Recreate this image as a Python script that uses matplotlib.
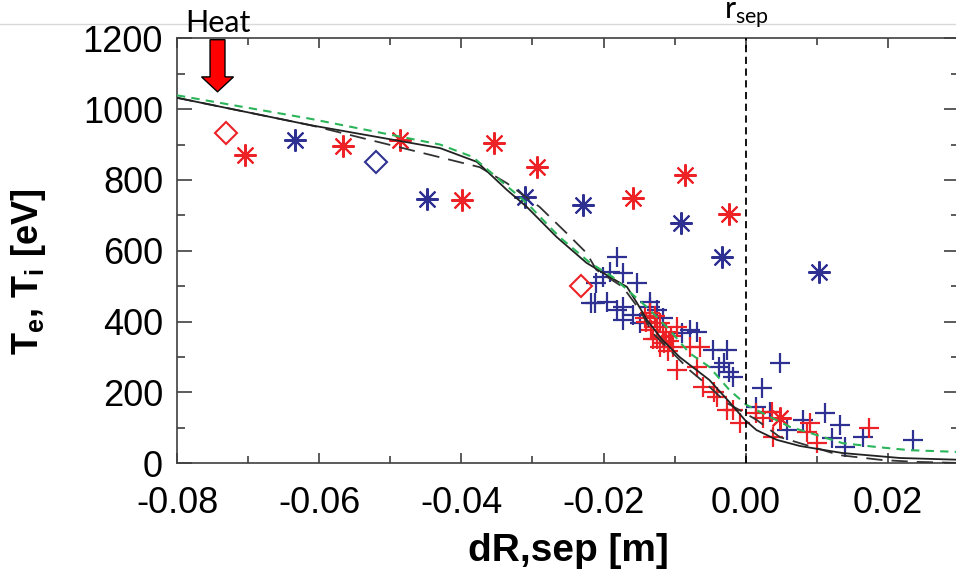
import matplotlib
matplotlib.use("Agg")
import matplotlib.pyplot as plt
from matplotlib.lines import Line2D
from matplotlib.patches import FancyArrow
from matplotlib.ticker import MultipleLocator, FormatStrFormatter

plt.rcParams["axes.unicode_minus"] = False
plt.rcParams["font.family"] = ["Liberation Sans", "DejaVu Sans"]

RED = "#ec2227"
BLUE = "#2e3192"

# --- model profiles ---
solid_x = [-0.0800, -0.0613, -0.0430, -0.0378, -0.0336, -0.0308, -0.0266, -0.0224,
           -0.0191, -0.0167, -0.0153, -0.0139, -0.0117, -0.0093, -0.0051, -0.0023,
           -0.0001, 0.0015, 0.0044, 0.0076, 0.0136, 0.0217, 0.0300]
solid_y = [1032, 955, 890, 851, 772, 724, 639, 566, 526, 498, 453, 405, 348, 300,
           235, 173, 122, 94, 66, 49, 29, 15, 10]

dash_x = [-0.0800, -0.0613, -0.0430, -0.0374, -0.0336, -0.0290, -0.0252, -0.0224,
          -0.0210, -0.0173, -0.0149, -0.0131, -0.0097, -0.0079, -0.0051, -0.0027,
          0.0015, 0.0048, 0.0132, 0.0193, 0.0240, 0.0300]
dash_y = [1032, 955, 864, 836, 791, 724, 650, 594, 546, 498, 433, 368, 300, 263,
          216, 171, 123, 74, 23, 9, 4, 1]

green_x = [-0.0800, -0.0613, -0.0430, -0.0384, -0.0346, -0.0308, -0.0262, -0.0219,
           -0.0187, -0.0139, -0.0107, -0.0079, -0.0051, -0.0023, 0.0001, 0.0034,
           0.0062, 0.0090, 0.0136, 0.0184, 0.0231, 0.0300]
green_y = [1039, 973, 900, 865, 800, 735, 639, 566, 526, 441, 376, 311, 272, 207,
           165, 131, 103, 86, 57, 46, 37, 32]

# --- measurements ---
red_ast_x = [-0.0705, -0.0567, -0.0487, -0.0399, -0.0354, -0.0294, -0.0159, -0.0086, -0.0023, 0.0048]
red_ast_y = [870, 896, 913, 743, 904, 836, 749, 814, 704, 128]

blue_ast_x = [-0.0634, -0.0449, -0.0311, -0.0229, -0.0091, -0.0034, 0.0103]
blue_ast_y = [913, 746, 752, 729, 679, 582, 540]

red_dia_x = [-0.0731, -0.0232]
red_dia_y = [933, 501]
blue_dia_x = [-0.0520]
blue_dia_y = [851]

blue_plus_x = [-0.0181, -0.0191, -0.0201, -0.0173, -0.0153, -0.0212, -0.0195, -0.0181,
               -0.0173, -0.0159, -0.0135, -0.0125, -0.0149, -0.0117, -0.0173, -0.0135,
               -0.0079, -0.0089, -0.0069, -0.0046, -0.0027, -0.0037, -0.0023, -0.0018,
               0.0048, 0.0023, 0.0015, 0.0034, 0.0058, 0.0080, 0.0111, 0.0132,
               0.0122, 0.0139, 0.0165, 0.0235, -0.0030, -0.0210, -0.0217]
blue_plus_y = [583, 540, 526, 537, 509, 453, 455, 433,
               442, 419, 455, 433, 396, 410, 405, 441,
               376, 368, 371, 320, 320, 272, 258, 243,
               283, 213, 159, 145, 94, 122, 142, 108,
               71, 46, 75, 66, 283, 509, 453]

red_plus_x = [-0.0135, -0.0125, -0.0117, -0.0121, -0.0103, -0.0097, -0.0097, -0.0069,
              -0.0060, -0.0041, -0.0027, -0.0065, -0.0018, -0.0008, 0.0015, 0.0024,
              0.0037, 0.0038, 0.0090, 0.0086, 0.0100, 0.0174, -0.0142, -0.0112,
              -0.0130, -0.0108, -0.0079, -0.0045, -0.0140, -0.0128, -0.0120, -0.0133,
              -0.0115, -0.0105, -0.0125, -0.0110]
red_plus_y = [425, 385, 357, 329, 329, 385, 263, 272,
              216, 188, 151, 329, 151, 114, 142, 128,
              145, 74, 114, 88, 57, 100, 409, 370,
              350, 345, 329, 200, 400, 415, 395, 375,
              340, 360, 350, 318]

x_ticks = [-0.08, -0.06, -0.04, -0.02, 0.00, 0.02]
y_ticks = [0, 200, 400, 600, 800, 1000, 1200]

fig = plt.figure(figsize=(9.56, 5.77), dpi=100)
ax = fig.add_axes([177 / 956, 1 - 463.3 / 577, 782 / 956, 425 / 577])

ax.plot(blue_plus_x, blue_plus_y, ls="none", marker="+", ms=15, mew=1.6, color=BLUE)
ax.plot(red_plus_x, red_plus_y, ls="none", marker="+", ms=15, mew=1.6, color=RED)
ax.plot(blue_ast_x, blue_ast_y, ls="none", marker=(8, 2, 0), ms=16, mew=1.5, color=BLUE)
ax.plot(red_ast_x, red_ast_y, ls="none", marker=(8, 2, 0), ms=16, mew=1.5, color=RED)
ax.plot(red_dia_x, red_dia_y, ls="none", marker="D", ms=11, mfc="none", mew=1.5, mec=RED)
ax.plot(blue_dia_x, blue_dia_y, ls="none", marker="D", ms=11, mfc="none", mew=1.5, mec=BLUE)

ax.plot(dash_x, dash_y, color="#333333", lw=1.3, ls=(0, (9, 5)), zorder=4)
ax.plot(solid_x, solid_y, color="#222222", lw=1.3, zorder=4)
ax.plot(green_x, green_y, color="#2bb55a", lw=1.5, ls=(0, (4, 3)), zorder=4)
ax.axvline(0.0, color="black", lw=1.3, ls=(0, (4, 2.5)), zorder=5)

# heating arrow
ax.add_patch(FancyArrow(-0.0743, 1196, 0, -147, width=0.0021, head_width=0.0045,
                        head_length=42, length_includes_head=True,
                        facecolor="#ff0000", edgecolor="black", lw=1.0, zorder=6))

ax.set_xlim(-0.08, 0.03)
ax.set_ylim(0, 1200)
ax.set_xticks(x_ticks)
ax.set_yticks(y_ticks)
ax.xaxis.set_major_formatter(FormatStrFormatter("%.2f"))
ax.xaxis.set_minor_locator(MultipleLocator(0.01))
ax.yaxis.set_minor_locator(MultipleLocator(100))
ax.tick_params(axis="both", which="both", direction="in", top=True, right=True,
               colors="#404040", labelcolor="black", labelsize=26, width=1.2)
ax.tick_params(axis="x", which="major", length=7, pad=16)
ax.tick_params(axis="x", which="minor", length=5)
ax.tick_params(axis="y", which="major", length=11, pad=10)
ax.tick_params(axis="y", which="minor", length=6)
for sp in ax.spines.values():
    sp.set_color("#404040")
    sp.set_linewidth(1.2)

ax.set_xlabel("dR,sep [m]", fontsize=28, fontweight="bold")
ax.set_ylabel(r"T$_\mathregular{e}$, T$_\mathregular{i}$ [eV]", fontsize=26, fontweight="bold")
ax.xaxis.set_label_coords(0.5, -0.165)
ax.yaxis.set_label_coords(-0.165, 0.45)

# slide decorations
fig.add_artist(Line2D([0, 1], [1 - 24 / 577] * 2, transform=fig.transFigure,
                      color="#d9d9d9", lw=1.0, zorder=0))
fig.text(185 / 956, 1 - 32 / 577, "Heat", fontsize=22, family="Lato", va="baseline")
fig.text(724 / 956, 1 - 19 / 577, r"r$_\mathregular{sep}$", fontsize=22, family="Lato",
         va="baseline")

fig.savefig("out.png", dpi=100)
